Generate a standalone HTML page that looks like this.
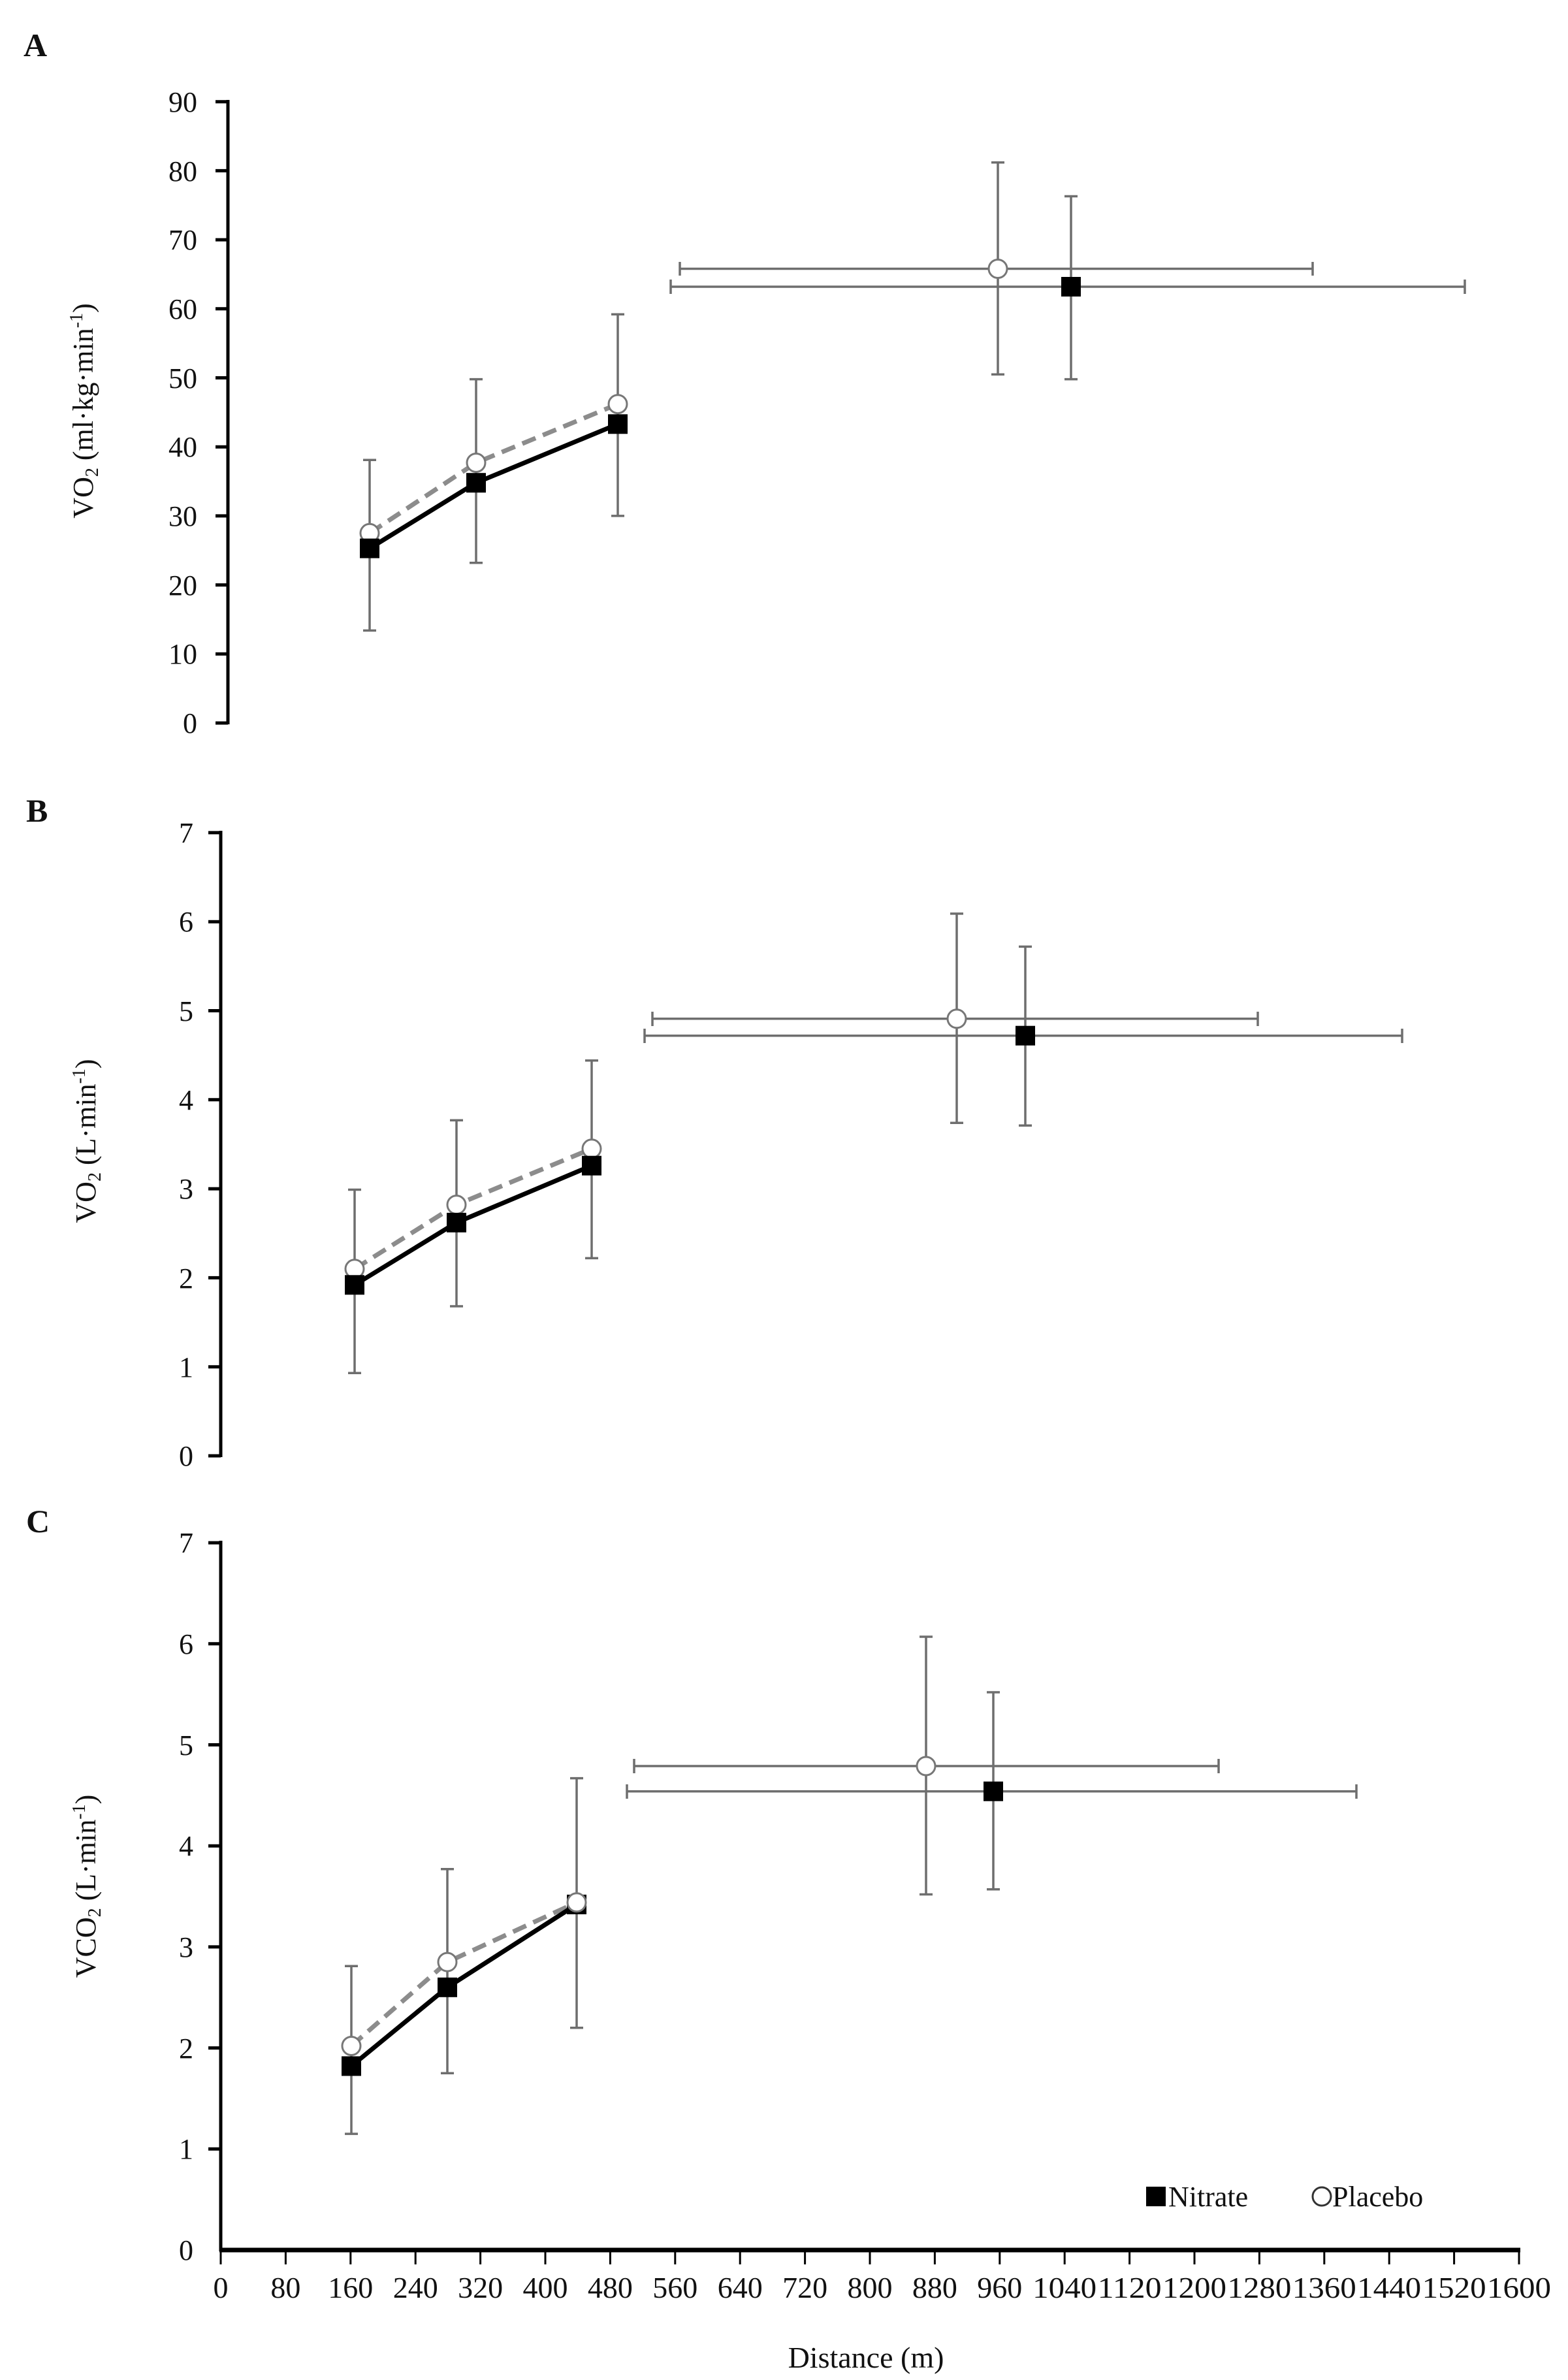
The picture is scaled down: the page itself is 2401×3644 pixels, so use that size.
<!DOCTYPE html>
<html><head><meta charset="utf-8"><style>
html,body{margin:0;padding:0;background:#fff}
svg{display:block}
text{font-family:"Liberation Serif",serif;fill:#111}
</style></head><body>
<svg width="2401" height="3644" viewBox="0 0 2401 3644" xmlns="http://www.w3.org/2000/svg">
<rect width="2401" height="3644" fill="#fff"/>
<text x="36" y="86" font-size="50" font-weight="bold">A</text>
<text x="40" y="1258" font-size="50" font-weight="bold">B</text>
<text x="40" y="2346" font-size="50" font-weight="bold">C</text>

<g stroke="#000" stroke-width="5">
<line x1="349" y1="153" x2="349" y2="1109"/>
<line x1="330" y1="1107" x2="349" y2="1107"/><line x1="330" y1="1001.3" x2="349" y2="1001.3"/>
<line x1="330" y1="895.6" x2="349" y2="895.6"/><line x1="330" y1="789.9" x2="349" y2="789.9"/>
<line x1="330" y1="684.2" x2="349" y2="684.2"/><line x1="330" y1="578.5" x2="349" y2="578.5"/>
<line x1="330" y1="472.8" x2="349" y2="472.8"/><line x1="330" y1="367.1" x2="349" y2="367.1"/>
<line x1="330" y1="261.4" x2="349" y2="261.4"/><line x1="330" y1="155.7" x2="349" y2="155.7"/>
</g>
<g font-size="44" text-anchor="end">
<text x="302" y="1122">0</text><text x="302" y="1016">10</text><text x="302" y="911">20</text>
<text x="302" y="805">30</text><text x="302" y="699">40</text><text x="302" y="594">50</text>
<text x="302" y="488">60</text><text x="302" y="382">70</text><text x="302" y="277">80</text>
<text x="302" y="171">90</text>
</g>
<text transform="translate(142,629) rotate(-90)" font-size="44" text-anchor="middle">VO<tspan font-size="28" dy="8">2</tspan><tspan dy="-8"> (ml·kg·min</tspan><tspan font-size="28" dy="-16">-1</tspan><tspan dy="16">)</tspan></text>
<g stroke="#6e6e6e" stroke-width="3.5">
<line x1="566" y1="965.4" x2="566" y2="704.3"/><line x1="556" y1="965.4" x2="576" y2="965.4"/><line x1="556" y1="704.3" x2="576" y2="704.3"/>
<line x1="729" y1="861.8" x2="729" y2="580.6"/><line x1="719" y1="861.8" x2="739" y2="861.8"/><line x1="719" y1="580.6" x2="739" y2="580.6"/>
<line x1="946" y1="789.9" x2="946" y2="481.3"/><line x1="936" y1="789.9" x2="956" y2="789.9"/><line x1="936" y1="481.3" x2="956" y2="481.3"/>
<line x1="1528" y1="573.2" x2="1528" y2="248.7"/><line x1="1518" y1="573.2" x2="1538" y2="573.2"/><line x1="1518" y1="248.7" x2="1538" y2="248.7"/>
<line x1="1640" y1="580.6" x2="1640" y2="300.5"/><line x1="1630" y1="580.6" x2="1650" y2="580.6"/><line x1="1630" y1="300.5" x2="1650" y2="300.5"/>
<line x1="1041" y1="411.5" x2="2010" y2="411.5"/><line x1="1041" y1="401" x2="1041" y2="422"/><line x1="2010" y1="401" x2="2010" y2="422"/>
<line x1="1027" y1="439" x2="2243" y2="439"/><line x1="1027" y1="428" x2="1027" y2="450"/><line x1="2243" y1="428" x2="2243" y2="450"/>
</g>
<polyline points="566,816.3 729,708.5 946,618.7" fill="none" stroke="#8c8c8c" stroke-width="7" stroke-dasharray="22,12"/>
<polyline points="566,839.6 729,739.2 946,649.3" fill="none" stroke="#000" stroke-width="7"/>
<g fill="#fff" stroke="#777" stroke-width="3">
<circle cx="566" cy="816.3" r="14"/><circle cx="729" cy="708.5" r="14"/><circle cx="946" cy="618.7" r="14"/><circle cx="1528" cy="411.5" r="14"/>
</g>
<g fill="#000">
<rect x="551" y="824.6" width="30" height="30"/><rect x="714" y="724.2" width="30" height="30"/><rect x="931" y="634.3" width="30" height="30"/><rect x="1625" y="424" width="30" height="30"/>
</g>

<g stroke="#000" stroke-width="5">
<line x1="338" y1="1272" x2="338" y2="2231"/>
<line x1="319" y1="2229" x2="338" y2="2229"/><line x1="319" y1="2092.7" x2="338" y2="2092.7"/>
<line x1="319" y1="1956.4" x2="338" y2="1956.4"/><line x1="319" y1="1820.1" x2="338" y2="1820.1"/>
<line x1="319" y1="1683.8" x2="338" y2="1683.8"/><line x1="319" y1="1547.5" x2="338" y2="1547.5"/>
<line x1="319" y1="1411.2" x2="338" y2="1411.2"/><line x1="319" y1="1274.9" x2="338" y2="1274.9"/>
</g>
<g font-size="44" text-anchor="end">
<text x="296" y="2244">0</text><text x="296" y="2108">1</text><text x="296" y="1972">2</text>
<text x="296" y="1835">3</text><text x="296" y="1699">4</text><text x="296" y="1563">5</text>
<text x="296" y="1426">6</text><text x="296" y="1290">7</text>
</g>
<text transform="translate(146,1747) rotate(-90)" font-size="44" text-anchor="middle">VO<tspan font-size="28" dy="8">2</tspan><tspan dy="-8"> (L·min</tspan><tspan font-size="28" dy="-16">-1</tspan><tspan dy="16">)</tspan></text>
<g stroke="#6e6e6e" stroke-width="3.5">
<line x1="543" y1="2102.2" x2="543" y2="1821.5"/><line x1="533" y1="2102.2" x2="553" y2="2102.2"/><line x1="533" y1="1821.5" x2="553" y2="1821.5"/>
<line x1="699" y1="2000" x2="699" y2="1715.2"/><line x1="689" y1="2000" x2="709" y2="2000"/><line x1="689" y1="1715.2" x2="709" y2="1715.2"/>
<line x1="906" y1="1926.4" x2="906" y2="1623.8"/><line x1="896" y1="1926.4" x2="916" y2="1926.4"/><line x1="896" y1="1623.8" x2="916" y2="1623.8"/>
<line x1="1465" y1="1719.2" x2="1465" y2="1398.9"/><line x1="1455" y1="1719.2" x2="1475" y2="1719.2"/><line x1="1455" y1="1398.9" x2="1475" y2="1398.9"/>
<line x1="1570" y1="1723.3" x2="1570" y2="1449.4"/><line x1="1560" y1="1723.3" x2="1580" y2="1723.3"/><line x1="1560" y1="1449.4" x2="1580" y2="1449.4"/>
<line x1="999" y1="1559.8" x2="1926" y2="1559.8"/><line x1="999" y1="1549" x2="999" y2="1571"/><line x1="1926" y1="1549" x2="1926" y2="1571"/>
<line x1="987" y1="1585.7" x2="2147" y2="1585.7"/><line x1="987" y1="1575" x2="987" y2="1597"/><line x1="2147" y1="1575" x2="2147" y2="1597"/>
</g>
<polyline points="543,1942.8 699,1844.6 906,1758.8" fill="none" stroke="#8c8c8c" stroke-width="7" stroke-dasharray="22,12"/>
<polyline points="543,1967.3 699,1871.9 906,1784.7" fill="none" stroke="#000" stroke-width="7"/>
<g fill="#fff" stroke="#777" stroke-width="3">
<circle cx="543" cy="1942.8" r="14"/><circle cx="699" cy="1844.6" r="14"/><circle cx="906" cy="1758.8" r="14"/><circle cx="1465" cy="1559.8" r="14"/>
</g>
<g fill="#000">
<rect x="528" y="1952.3" width="30" height="30"/><rect x="684" y="1856.9" width="30" height="30"/><rect x="891" y="1769.7" width="30" height="30"/><rect x="1555" y="1570.7" width="30" height="30"/>
</g>

<g stroke="#000" stroke-width="5">
<line x1="338" y1="2359" x2="338" y2="3447"/>
<line x1="319" y1="3290.3" x2="338" y2="3290.3"/>
<line x1="319" y1="3135.6" x2="338" y2="3135.6"/><line x1="319" y1="2980.9" x2="338" y2="2980.9"/>
<line x1="319" y1="2826.2" x2="338" y2="2826.2"/><line x1="319" y1="2671.5" x2="338" y2="2671.5"/>
<line x1="319" y1="2516.8" x2="338" y2="2516.8"/><line x1="319" y1="2362.1" x2="338" y2="2362.1"/>
</g>
<line x1="336" y1="3445" x2="2328" y2="3445" stroke="#000" stroke-width="7"/>
<g stroke="#000" stroke-width="3">
<line x1="338" y1="3445" x2="338" y2="3467"/><line x1="437.4" y1="3445" x2="437.4" y2="3467"/><line x1="536.8" y1="3445" x2="536.8" y2="3467"/>
<line x1="636.2" y1="3445" x2="636.2" y2="3467"/><line x1="735.6" y1="3445" x2="735.6" y2="3467"/><line x1="835" y1="3445" x2="835" y2="3467"/>
<line x1="934.4" y1="3445" x2="934.4" y2="3467"/><line x1="1033.8" y1="3445" x2="1033.8" y2="3467"/><line x1="1133.2" y1="3445" x2="1133.2" y2="3467"/>
<line x1="1232.6" y1="3445" x2="1232.6" y2="3467"/><line x1="1332" y1="3445" x2="1332" y2="3467"/><line x1="1431.4" y1="3445" x2="1431.4" y2="3467"/>
<line x1="1530.8" y1="3445" x2="1530.8" y2="3467"/><line x1="1630.2" y1="3445" x2="1630.2" y2="3467"/><line x1="1729.6" y1="3445" x2="1729.6" y2="3467"/>
<line x1="1829" y1="3445" x2="1829" y2="3467"/><line x1="1928.4" y1="3445" x2="1928.4" y2="3467"/><line x1="2027.8" y1="3445" x2="2027.8" y2="3467"/>
<line x1="2127.2" y1="3445" x2="2127.2" y2="3467"/><line x1="2226.6" y1="3445" x2="2226.6" y2="3467"/><line x1="2326" y1="3445" x2="2326" y2="3467"/>
</g>
<g font-size="44" text-anchor="end">
<text x="296" y="3460">0</text><text x="296" y="3305">1</text><text x="296" y="3151">2</text>
<text x="296" y="2996">3</text><text x="296" y="2841">4</text><text x="296" y="2687">5</text>
<text x="296" y="2532">6</text><text x="296" y="2377">7</text>
</g>
<g font-size="46" text-anchor="middle">
<text x="338" y="3518">0</text><text x="437.4" y="3518">80</text><text x="536.8" y="3518">160</text>
<text x="636.2" y="3518">240</text><text x="735.6" y="3518">320</text><text x="835" y="3518">400</text>
<text x="934.4" y="3518">480</text><text x="1033.8" y="3518">560</text><text x="1133.2" y="3518">640</text>
<text x="1232.6" y="3518">720</text><text x="1332" y="3518">800</text><text x="1431.4" y="3518">880</text>
<text x="1530.8" y="3518">960</text>
</g>
<g font-size="46" text-anchor="middle">
<text x="1630.2" y="3518" textLength="98" lengthAdjust="spacingAndGlyphs">1040</text>
<text x="1729.6" y="3518" textLength="98" lengthAdjust="spacingAndGlyphs">1120</text>
<text x="1829" y="3518" textLength="98" lengthAdjust="spacingAndGlyphs">1200</text>
<text x="1928.4" y="3518" textLength="98" lengthAdjust="spacingAndGlyphs">1280</text>
<text x="2027.8" y="3518" textLength="98" lengthAdjust="spacingAndGlyphs">1360</text>
<text x="2127.2" y="3518" textLength="98" lengthAdjust="spacingAndGlyphs">1440</text>
<text x="2226.6" y="3518" textLength="98" lengthAdjust="spacingAndGlyphs">1520</text>
<text x="2326" y="3518" textLength="98" lengthAdjust="spacingAndGlyphs">1600</text>
</g>
<text x="1326" y="3625" font-size="46" text-anchor="middle">Distance (m)</text>
<text transform="translate(146,2888) rotate(-90)" font-size="44" text-anchor="middle">VCO<tspan font-size="28" dy="8">2</tspan><tspan dy="-8"> (L·min</tspan><tspan font-size="28" dy="-16">-1</tspan><tspan dy="16">)</tspan></text>
<g stroke="#6e6e6e" stroke-width="3.5">
<line x1="538" y1="3267.1" x2="538" y2="3010.3"/><line x1="528" y1="3267.1" x2="548" y2="3267.1"/><line x1="528" y1="3010.3" x2="548" y2="3010.3"/>
<line x1="685" y1="3174.3" x2="685" y2="2861.8"/><line x1="675" y1="3174.3" x2="695" y2="3174.3"/><line x1="675" y1="2861.8" x2="695" y2="2861.8"/>
<line x1="883" y1="3104.7" x2="883" y2="2722.6"/><line x1="873" y1="3104.7" x2="893" y2="3104.7"/><line x1="873" y1="2722.6" x2="893" y2="2722.6"/>
<line x1="1418" y1="2900.5" x2="1418" y2="2506"/><line x1="1408" y1="2900.5" x2="1428" y2="2900.5"/><line x1="1408" y1="2506" x2="1428" y2="2506"/>
<line x1="1521" y1="2892.7" x2="1521" y2="2591"/><line x1="1511" y1="2892.7" x2="1531" y2="2892.7"/><line x1="1511" y1="2591" x2="1531" y2="2591"/>
<line x1="971" y1="2704" x2="1866" y2="2704"/><line x1="971" y1="2693" x2="971" y2="2715"/><line x1="1866" y1="2693" x2="1866" y2="2715"/>
<line x1="960" y1="2742.7" x2="2077" y2="2742.7"/><line x1="960" y1="2732" x2="960" y2="2754"/><line x1="2077" y1="2732" x2="2077" y2="2754"/>
</g>
<polyline points="538,3132.5 685,3004.1 883,2912.8" fill="none" stroke="#8c8c8c" stroke-width="7" stroke-dasharray="22,12"/>
<polyline points="538,3163.4 685,3042.8 883,2915.9" fill="none" stroke="#000" stroke-width="7"/>
<g fill="#000">
<rect x="523" y="3148.4" width="30" height="30"/><rect x="670" y="3027.8" width="30" height="30"/><rect x="868" y="2900.9" width="30" height="30"/><rect x="1506" y="2727.7" width="30" height="30"/>
</g>
<g fill="#fff" stroke="#777" stroke-width="3">
<circle cx="538" cy="3132.5" r="14"/><circle cx="685" cy="3004.1" r="14"/><circle cx="883" cy="2912.8" r="14"/><circle cx="1418" cy="2704" r="14"/>
</g>

<rect x="1755" y="3348" width="30" height="30" fill="#000"/>
<text x="1789" y="3378" font-size="44">Nitrate</text>
<circle cx="2024" cy="3363" r="14" fill="#fff" stroke="#333" stroke-width="3"/>
<text x="2040" y="3378" font-size="44">Placebo</text>
</svg>
</body></html>
